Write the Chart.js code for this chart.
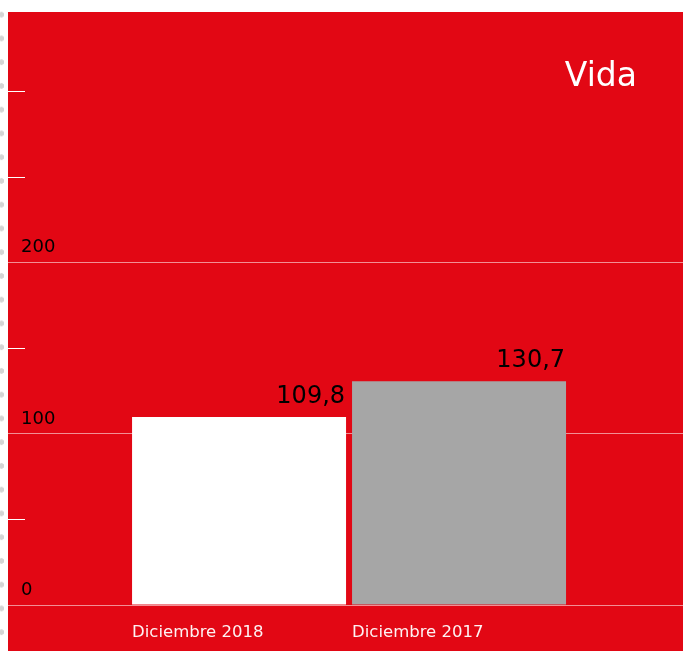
<!DOCTYPE html>
<html>
<head>
<meta charset="utf-8">
<script src="https://cdn.jsdelivr.net/npm/chart.js@4"></script>
<style>
  body { margin: 0; background: #ffffff; width: 683px; height: 651px; overflow: hidden; position: relative; }
  #dots {
    position: absolute; left: -1px; top: 0; width: 6px; height: 651px;
    background-image: radial-gradient(circle at 2.5px 50%, #d4d4d4 2.4px, rgba(212,212,212,0) 3px);
    background-size: 6px 23.75px;
    background-position: 0 2.8px;
  }
  #box { position: absolute; left: 8px; top: 12px; width: 675px; height: 639px; background: #e20714; }
  #title {
    position: absolute; right: 46px; top: 58px;
    font-family: 'DejaVu Sans', sans-serif; font-size: 33px; line-height: 33px; color: #ffffff;
  }
</style>
</head>
<body>
<div id="dots"></div>
<div id="box"><canvas id="chart"></canvas></div>
<div id="title">Vida</div>
<script>
const categories = ['Diciembre 2018', 'Diciembre 2017'];
const values = [109.8, 130.7];
const barColors = ['#ffffff', '#a6a6a6'];
const xPositions = [1, 2];
const yTickValues = [0, 50, 100, 150, 200, 250, 300];
const yGridValues = [0, 100, 200];

const fontFamily = "'DejaVu Sans', sans-serif";
const gridPink = 'rgba(255,255,255,0.55)';

// value labels above the bars, right aligned on the bar edge
const valueLabels = {
  id: 'valueLabels',
  afterDatasetsDraw(chart) {
    const ctx = chart.ctx;
    const meta = chart.getDatasetMeta(0);
    ctx.save();
    ctx.font = '24px ' + fontFamily;
    ctx.fillStyle = '#000000';
    ctx.textAlign = 'right';
    ctx.textBaseline = 'alphabetic';
    meta.data.forEach((bar, i) => {
      const text = values[i].toFixed(1).replace('.', ',');
      ctx.fillText(text, bar.x + bar.width / 2 - 1, bar.y - 14);
    });
    ctx.restore();
  }
};

new Chart(document.getElementById('chart'), {
  type: 'bar',
  data: {
    datasets: [{
      data: values.map((v, i) => ({ x: xPositions[i], y: v })),
      backgroundColor: barColors,
      borderWidth: 0,
      categoryPercentage: 1,
      barPercentage: 214 / 220
    }]
  },
  options: {
    responsive: true,
    maintainAspectRatio: false,
    animation: false,
    layout: { padding: 0 },
    plugins: {
      legend: { display: false },
      tooltip: { enabled: false }
    },
    scales: {
      x: {
        type: 'linear',
        offset: false,
        min: 0.027,
        max: 3.018,
        afterBuildTicks: (s) => { s.ticks = xPositions.map(v => ({ value: v })); },
        afterFit: (s) => { s.height = 46; },
        border: { display: false },
        grid: { display: false, drawTicks: false, offset: false },
        ticks: {
          align: 'start',
          labelOffset: -107,
          padding: 18,
          maxRotation: 0,
          autoSkip: false,
          color: 'rgba(255,255,255,0.95)',
          font: { family: fontFamily, size: 16.5 },
          callback: (v, i) => categories[i]
        }
      },
      y: {
        min: 0,
        max: 342.5,
        afterBuildTicks: (s) => { s.ticks = yTickValues.map(v => ({ value: v })); },
        afterFit: (s) => { s.width = 17; },
        border: { display: false },
        grid: {
          color: (c) => yGridValues.includes(c.tick && c.tick.value) ? gridPink : 'rgba(0,0,0,0)',
          tickColor: (c) => yGridValues.includes(c.tick && c.tick.value) ? gridPink : '#ffffff',
          tickLength: 17,
          lineWidth: 1
        },
        ticks: {
          mirror: true,
          padding: -4,
          labelOffset: -15,
          autoSkip: false,
          color: '#000000',
          font: { family: fontFamily, size: 18 },
          callback: (v) => yGridValues.includes(v) ? String(v) : ''
        }
      }
    }
  },
  plugins: [valueLabels]
});
</script>
</body>
</html>
